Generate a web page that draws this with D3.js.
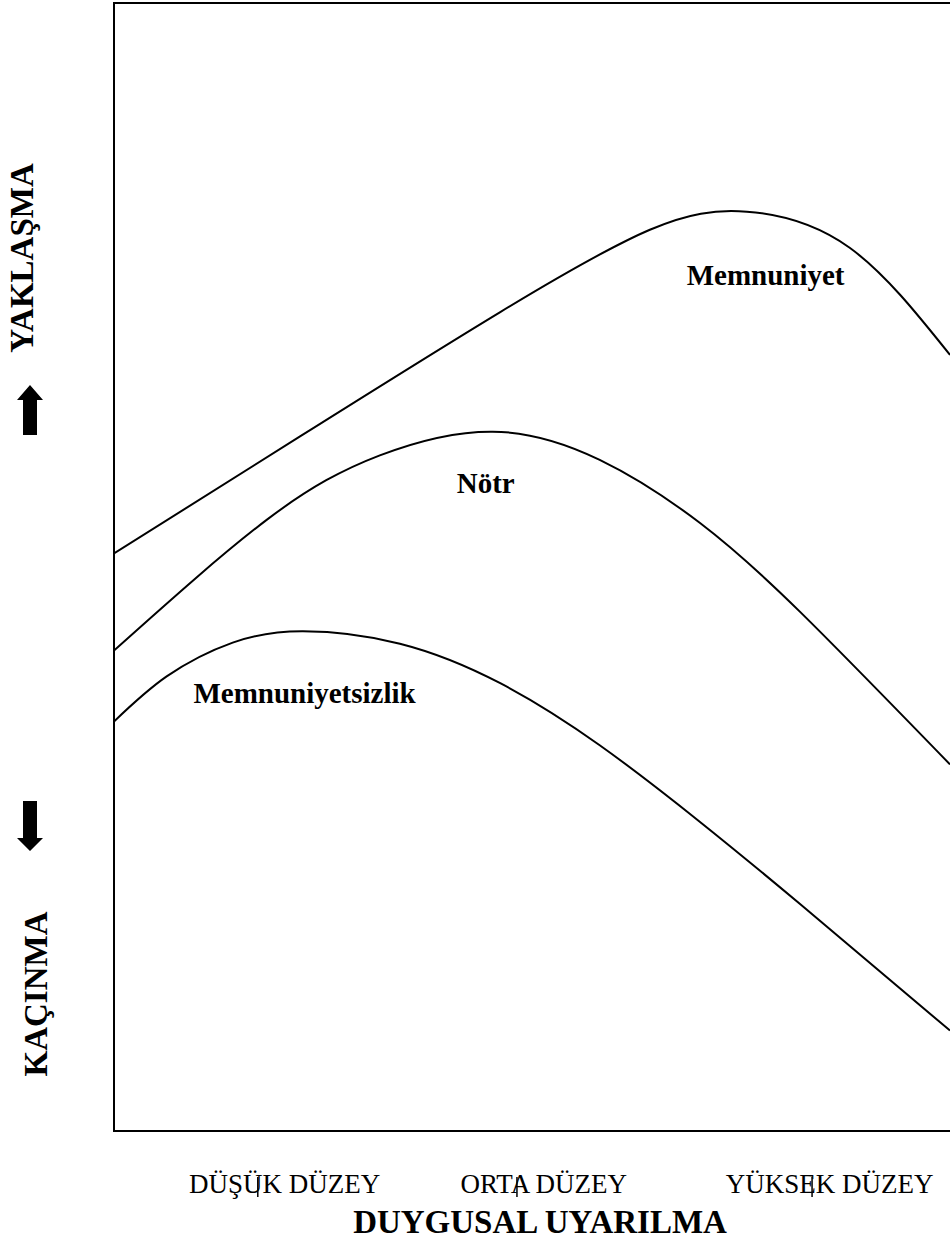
<!DOCTYPE html>
<html><head><meta charset="utf-8">
<script src="https://cdn.jsdelivr.net/npm/d3@7"></script>
<style>html,body{margin:0;padding:0;background:#fff;}svg{display:block;}</style>
</head><body>
<script>
// Arousal (x, 0-10) vs approach/avoidance (y, 0-10)
const memnuniyetX = [0, 2.23, 4.62, 6.41, 7.57, 8.80, 10];
const memnuniyetY = [5.12, 6.16, 7.26, 7.99, 8.15, 7.83, 6.88];
const notrX = [0, 1.83, 3.18, 4.53, 5.81, 7.01, 8.21, 10];
const notrY = [4.26, 5.42, 5.99, 6.20, 5.95, 5.39, 4.60, 3.25];
const memsizX = [0, 0.63, 1.42, 2.26, 3.42, 4.62, 5.81, 7.01, 8.21, 10];
const memsizY = [3.63, 4.03, 4.33, 4.43, 4.32, 3.97, 3.42, 2.74, 2.01, 0.89];

const seriesNames = ["Memnuniyet", "Nötr", "Memnuniyetsizlik"];
const labelX = [6.85, 4.10, 0.95];
const labelY = [7.50, 5.66, 3.79];

const tickLabels = ["DÜŞÜK DÜZEY", "ORTA DÜZEY", "YÜKSEK DÜZEY"];
const tickLabelPos = [2.04, 5.14, 8.56];
const tickMarkPos = [1.72, 4.82, 8.35];
const xTitle = "DUYGUSAL UYARILMA";
const yTop = "YAKLAŞMA";
const yBottom = "KAÇINMA";

const W = 950, H = 1245;
const svg = d3.select("body").append("svg").attr("width", W).attr("height", H);

const x = d3.scaleLinear().domain([0, 10]).range([114, 950]);
const y = d3.scaleLinear().domain([0, 10]).range([1131, 3]);

const serif = "'Liberation Serif', 'Times New Roman', serif";

// Frame
svg.append("rect")
  .attr("x", x(0)).attr("y", y(10))
  .attr("width", x(10) - x(0) + 20).attr("height", y(0) - y(10))
  .attr("fill", "none").attr("stroke", "#000").attr("stroke-width", 2);

// Curves
const line = d3.line().x(d => x(d[0])).y(d => y(d[1])).curve(d3.curveNatural);
const series = [
  d3.zip(memnuniyetX, memnuniyetY),
  d3.zip(notrX, notrY),
  d3.zip(memsizX, memsizY)
];
svg.append("defs").append("clipPath").attr("id", "clip")
  .append("rect").attr("x", x(0)).attr("y", 0).attr("width", x(10) - x(0)).attr("height", y(0));
svg.append("g").attr("clip-path", "url(#clip)")
  .selectAll("path").data(series).join("path")
  .attr("d", line)
  .attr("fill", "none").attr("stroke", "#000").attr("stroke-width", 2);

// Series labels
svg.selectAll("text.lab").data(seriesNames).join("text")
  .attr("class", "lab")
  .attr("x", (d, i) => x(labelX[i])).attr("y", (d, i) => y(labelY[i]))
  .attr("font-family", serif).attr("font-weight", "bold").attr("font-size", 29)
  .text(d => d);

// Bottom category labels
svg.selectAll("text.tick").data(tickLabels).join("text")
  .attr("class", "tick")
  .attr("x", (d, i) => x(tickLabelPos[i])).attr("y", 1193)
  .attr("text-anchor", "middle")
  .attr("font-family", serif).attr("font-size", 27)
  .text(d => d);

// Tick marks (crossing labels)
svg.selectAll("line.tm").data(tickMarkPos).join("line")
  .attr("class", "tm")
  .attr("x1", d => x(d)).attr("x2", d => x(d))
  .attr("y1", 1177).attr("y2", 1197)
  .attr("stroke", "#000").attr("stroke-width", 1.5);

// X title
svg.append("text")
  .attr("x", 540).attr("y", 1233).attr("text-anchor", "middle")
  .attr("font-family", serif).attr("font-weight", "bold").attr("font-size", 33)
  .text(xTitle);

// Y labels (rotated)
svg.append("text")
  .attr("transform", "translate(33,258) rotate(-90)")
  .attr("text-anchor", "middle")
  .attr("font-family", serif).attr("font-weight", "bold").attr("font-size", 33)
  .text(yTop);
svg.append("text")
  .attr("transform", "translate(47,994) rotate(-90)")
  .attr("text-anchor", "middle")
  .attr("font-family", serif).attr("font-weight", "bold").attr("font-size", 33)
  .text(yBottom);

// Arrows
svg.append("path")
  .attr("d", "M30,385 L43,400 L37,400 L37,435 L23,435 L23,400 L17,400 Z")
  .attr("fill", "#000");
svg.append("path")
  .attr("d", "M23,801 L37,801 L37,838 L43,838 L30,851 L17,838 L23,838 Z")
  .attr("fill", "#000");
</script>
</body></html>
